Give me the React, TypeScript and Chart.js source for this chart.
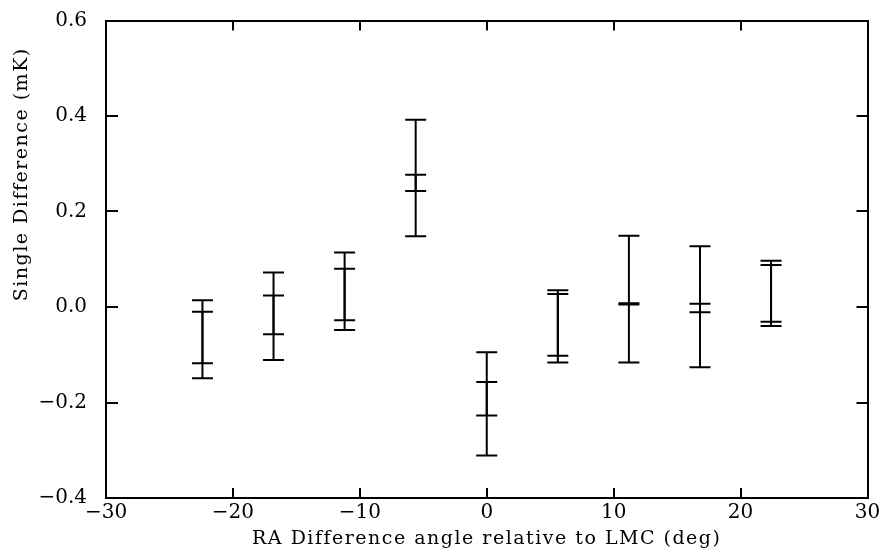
import React, { useEffect, useRef } from 'react';
import { Chart, registerables } from 'chart.js';

Chart.register(...registerables);

// Error-bar positions (deg) and the two measurements' upper / lower limits (mK)
const xPositions = [-22.4, -16.8, -11.2, -5.6, 0, 5.6, 11.2, 16.8, 22.4];
const upperA = [0.014, 0.072, 0.114, 0.392, -0.095, 0.035, 0.149, 0.127, 0.097];
const lowerA = [-0.118, -0.057, -0.028, 0.243, -0.227, -0.102, 0.005, -0.011, -0.031];
const upperB = [-0.010, 0.024, 0.080, 0.277, -0.157, 0.027, 0.008, 0.007, 0.088];
const lowerB = [-0.149, -0.111, -0.048, 0.148, -0.311, -0.116, -0.116, -0.126, -0.040];

const xTicks = [-30, -20, -10, 0, 10, 20, 30];
const xTickLabels = ['\u221230', '\u221220', '\u221210', '0', '10', '20', '30'];
const yTicks = [-0.4, -0.2, 0, 0.2, 0.4, 0.6];
const yTickLabels = ['\u22120.4', '\u22120.2', '0.0', '0.2', '0.4', '0.6'];

const xTitle = 'RA Difference angle relative to LMC (deg)';
const yTitle = 'Single Difference (mK)';

function segments(lower: number[], upper: number[]) {
  const pts: { x: number; y: number | null }[] = [];
  xPositions.forEach((x, i) => {
    pts.push({ x, y: lower[i] }, { x, y: upper[i] }, { x, y: null });
  });
  return pts;
}

const zeroPad = (s: any) => {
  s.paddingTop = 0;
  s.paddingBottom = 0;
  s.paddingLeft = 0;
  s.paddingRight = 0;
};

export default function App() {
  const ref = useRef<HTMLCanvasElement>(null);

  useEffect(() => {
    if (!ref.current) return;

    const titleStyle = {
      id: 'titleStyle',
      beforeDraw(chart: any) {
        Object.values(chart.scales).forEach((scale: any) => {
          if (scale.__patched) return;
          scale.__patched = true;
          const orig = scale.drawTitle.bind(scale);
          scale.drawTitle = () => {
            const ctx = chart.ctx;
            ctx.save();
            try {
              ctx.letterSpacing = '1.5px';
            } catch (e) {}
            if (scale.id === 'y') ctx.translate(0, -85);
            orig();
            ctx.restore();
          };
        });
      },
    };

    const tickFont = { family: 'DejaVu Serif', size: 20 };
    const titleFont = { family: 'DejaVu Serif', size: 19, lineHeight: 1 };
    const gridBase = { drawOnChartArea: false, drawTicks: true, color: '#000', lineWidth: 2 };
    const border = { display: true, color: '#000', width: 2 };

    const ds = (lower: number[], upper: number[]) => ({
      data: segments(lower, upper),
      showLine: true,
      spanGaps: false,
      borderColor: '#000',
      borderWidth: 2,
      pointStyle: 'line' as const,
      pointRadius: 10.5,
      pointHoverRadius: 10.5,
      pointBorderWidth: 2,
      pointBorderColor: '#000',
      pointBackgroundColor: '#000',
    });

    const chart = new Chart(ref.current, {
      type: 'scatter',
      data: {
        datasets: [ds(lowerA, upperA), ds(lowerB, upperB)],
      },
      plugins: [titleStyle],
      options: {
        animation: false,
        responsive: true,
        maintainAspectRatio: false,
        events: [],
        layout: { padding: { top: 8, right: 11, left: 0, bottom: 0 } },
        plugins: { legend: { display: false }, tooltip: { enabled: false } },
        scales: {
          x: {
            type: 'linear',
            position: 'bottom',
            min: -30,
            max: 30,
            afterBuildTicks: (s: any) => {
              s.ticks = xTicks.map((v) => ({ value: v }));
            },
            ticks: {
              callback: (_v: any, i: number) => xTickLabels[i],
              font: tickFont,
              color: '#000',
              padding: 13,
              maxRotation: 0,
              autoSkip: false,
            },
            grid: { ...gridBase, tickLength: -10 },
            border,
            title: {
              display: true,
              text: xTitle,
              font: titleFont,
              color: '#000',
              padding: { top: 0, bottom: 0 },
            },
            afterFit: (s: any) => {
              s.height = 51;
              zeroPad(s);
            },
          },
          x2: {
            type: 'linear',
            position: 'top',
            min: -30,
            max: 30,
            afterBuildTicks: (s: any) => {
              s.ticks = xTicks.map((v) => ({ value: v }));
            },
            ticks: { display: false },
            grid: { ...gridBase, tickLength: -10 },
            border,
            afterFit: (s: any) => {
              s.height = 0;
              zeroPad(s);
            },
          },
          y: {
            type: 'linear',
            position: 'left',
            min: -0.4,
            max: 0.6,
            afterBuildTicks: (s: any) => {
              s.ticks = yTicks.map((v) => ({ value: v }));
            },
            ticks: {
              callback: (_v: any, i: number) => yTickLabels[i],
              font: tickFont,
              color: '#000',
              padding: 31,
              autoSkip: false,
            },
            grid: { ...gridBase, tickLength: -12 },
            border,
            title: {
              display: true,
              text: yTitle,
              font: titleFont,
              color: '#000',
              padding: { top: 5, bottom: 0 },
            },
            afterFit: (s: any) => {
              s.width = 98;
              zeroPad(s);
            },
          },
          y2: {
            type: 'linear',
            position: 'right',
            min: -0.4,
            max: 0.6,
            afterBuildTicks: (s: any) => {
              s.ticks = yTicks.map((v) => ({ value: v }));
            },
            ticks: { display: false },
            grid: { ...gridBase, tickLength: -11 },
            border,
            afterFit: (s: any) => {
              s.width = 0;
              zeroPad(s);
            },
          },
        },
      },
    } as any);

    return () => chart.destroy();
  }, []);

  return (
    <div style={{ width: 872, height: 541, position: 'relative' }}>
      <canvas ref={ref} />
    </div>
  );
}
